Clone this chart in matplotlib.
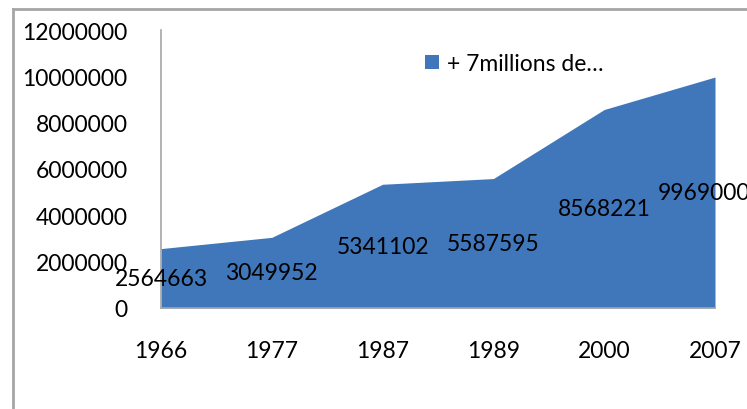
import matplotlib.pyplot as plt
from matplotlib.lines import Line2D

years = ['1966', '1977', '1987', '1989', '2000', '2007']
population = [2564663, 3049952, 5341102, 5587595, 8568221, 9969000]
series_name = '+ 7millions de…'

plt.rcParams['font.family'] = ['Lato', 'DejaVu Sans']
fs = 16.5

W, H = 747, 410
fig = plt.figure(figsize=(W / 100, H / 100), dpi=100)
ax = fig.add_axes([161 / W, 1 - 309 / H, (715 - 161) / W, (309 - 31) / H])

x = list(range(len(years)))
ax.fill_between(x, 0, population, color='#4077bb', lw=0, label=series_name)

# data labels sit at half height of each point, last one nudged left like Excel does
for xi, v in zip(x, population):
    dx = -8 if xi == x[-1] else 0
    ax.annotate(str(v), (xi, v / 2), xytext=(dx, 0), textcoords='offset points',
                ha='center', va='center', fontsize=fs, color='black', annotation_clip=False)

ax.set_xlim(0, len(years) - 1)
ax.set_ylim(0, 12000000)
ax.set_yticks(range(0, 12000001, 2000000))
ax.set_yticklabels([str(v) for v in range(0, 12000001, 2000000)])
ax.set_xticks(x)
ax.set_xticklabels(years)
ax.tick_params(axis='both', length=0, labelsize=fs)
ax.tick_params(axis='y', pad=24)
ax.tick_params(axis='x', pad=23)

for s in ['top', 'right']:
    ax.spines[s].set_visible(False)
for s in ['left', 'bottom']:
    ax.spines[s].set_color('#a6a6a6')
    ax.spines[s].set_linewidth(1.2)
ax.spines['bottom'].set_zorder(3)

leg = ax.legend(loc='upper left', bbox_to_anchor=((425 - 161) / (715 - 161), 1 - (54 - 31) / (309 - 31)),
                frameon=False, fontsize=fs, handlelength=0.6, handleheight=0.6,
                handletextpad=0.35, borderaxespad=0, borderpad=0)

# outer chart frame
fig.add_artist(Line2D([13 / W, 13 / W], [0, 1 - 10 / H], color='#a6a6a6', lw=2))
fig.add_artist(Line2D([13 / W, 1], [1 - 10 / H, 1 - 10 / H], color='#a6a6a6', lw=2))

fig.savefig('out.png', dpi=100)
